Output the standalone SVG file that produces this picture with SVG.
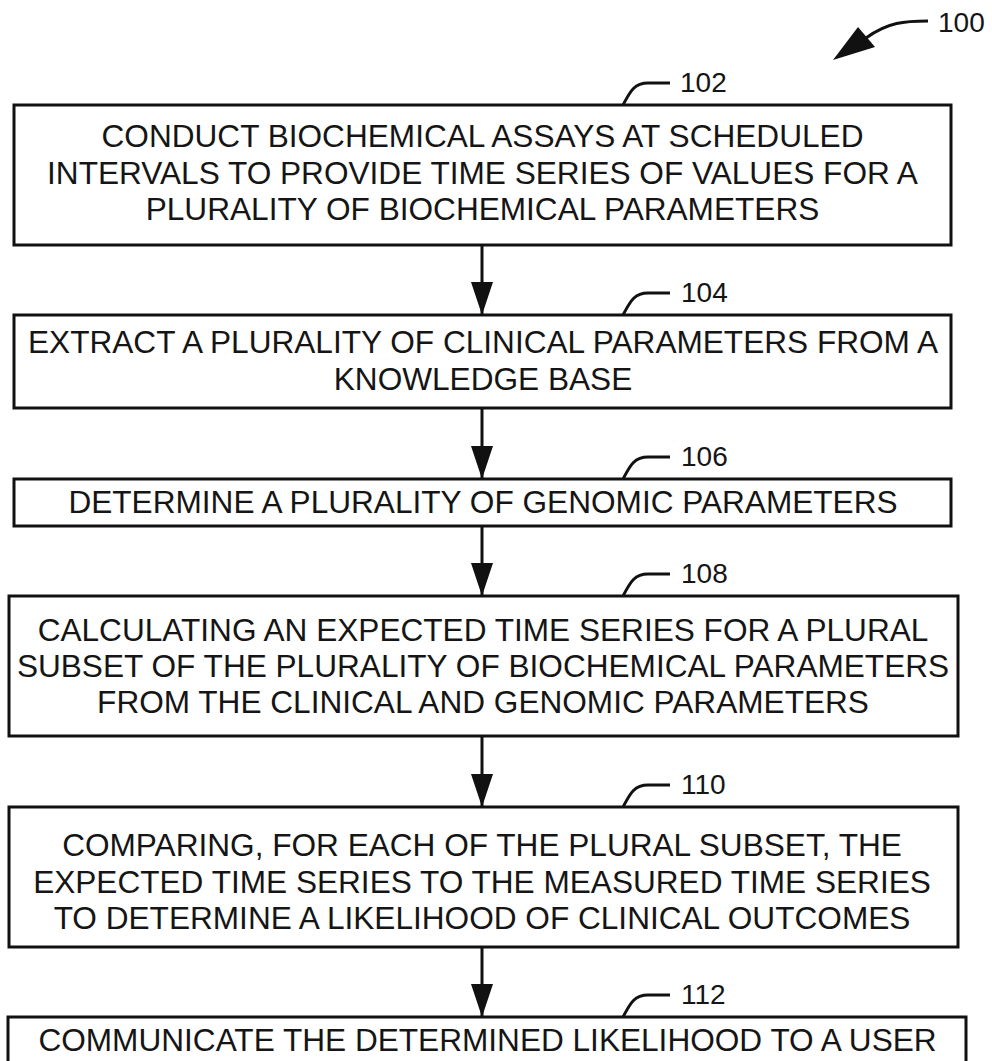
<svg xmlns="http://www.w3.org/2000/svg" width="992" height="1061" viewBox="0 0 992 1061">
  <defs>
    <style>
      .box { fill: #ffffff; stroke: #111111; stroke-width: 3; }
      .txt { font-family: "Liberation Sans", Arial, sans-serif; font-size: 31.6px; fill: #151515; text-anchor: middle; }
      .lbl { font-family: "Liberation Sans", Arial, sans-serif; font-size: 28px; fill: #151515; }
      .lead { fill: none; stroke: #111111; stroke-width: 3; }
      .conn { fill: none; stroke: #111111; stroke-width: 3; }
    </style>
    <marker id="ah" markerUnits="userSpaceOnUse" markerWidth="33" markerHeight="22" refX="33" refY="11" orient="auto">
      <path d="M0,0 L33,11 L0,22 z" fill="#111111"/>
    </marker>
  </defs>
  <rect width="992" height="1061" fill="#ffffff"/>

  <g id="ref100">
    <path class="lead" d="M928,21 C905,21 888,22 866,38"/>
    <polygon points="833,60 858,27 875,47" fill="#111111"/>
    <text class="lbl" x="938" y="32">100</text>
  </g>

  <g id="node102">
    <rect class="box" x="14" y="105" width="937" height="140"/>
    <text class="txt" x="482.5" y="147">CONDUCT BIOCHEMICAL ASSAYS AT SCHEDULED</text>
    <text class="txt" x="482.5" y="184">INTERVALS TO PROVIDE TIME SERIES OF VALUES FOR A</text>
    <text class="txt" x="482.5" y="220">PLURALITY OF BIOCHEMICAL PARAMETERS</text>
    <path class="lead" d="M623,105 C630,92 634,83 648,83 L670,83"/>
    <text class="lbl" x="680" y="92">102</text>
  </g>

  <g id="node104">
    <rect class="box" x="14" y="315" width="937" height="93"/>
    <text class="txt" x="483" y="353">EXTRACT A PLURALITY OF CLINICAL PARAMETERS FROM A</text>
    <text class="txt" x="483" y="390">KNOWLEDGE BASE</text>
    <path class="lead" d="M623,315 C630,302 634,293 648,293 L670,293"/>
    <text class="lbl" x="681" y="302">104</text>
  </g>

  <g id="node106">
    <rect class="box" x="14" y="479" width="937" height="47"/>
    <text class="txt" x="483" y="513">DETERMINE A PLURALITY OF GENOMIC PARAMETERS</text>
    <path class="lead" d="M623,479 C630,466 634,457 648,457 L670,457"/>
    <text class="lbl" x="681" y="466">106</text>
  </g>

  <g id="node108">
    <rect class="box" x="9" y="596" width="949" height="140"/>
    <text class="txt" x="483" y="641">CALCULATING AN EXPECTED TIME SERIES FOR A PLURAL</text>
    <text class="txt" x="483" y="677">SUBSET OF THE PLURALITY OF BIOCHEMICAL PARAMETERS</text>
    <text class="txt" x="483" y="713">FROM THE CLINICAL AND GENOMIC PARAMETERS</text>
    <path class="lead" d="M623,596 C630,583 634,574 648,574 L670,574"/>
    <text class="lbl" x="681" y="583">108</text>
  </g>

  <g id="node110">
    <rect class="box" x="9" y="807" width="949" height="140"/>
    <text class="txt" x="482" y="856">COMPARING, FOR EACH OF THE PLURAL SUBSET, THE</text>
    <text class="txt" x="482" y="893">EXPECTED TIME SERIES TO THE MEASURED TIME SERIES</text>
    <text class="txt" x="482" y="929">TO DETERMINE A LIKELIHOOD OF CLINICAL OUTCOMES</text>
    <path class="lead" d="M623,807 C630,794 634,785 648,785 L670,785"/>
    <text class="lbl" x="681" y="794">110</text>
  </g>

  <g id="node112">
    <rect class="box" x="8" y="1017" width="958" height="70"/>
    <text class="txt" x="487.5" y="1051">COMMUNICATE THE DETERMINED LIKELIHOOD TO A USER</text>
    <path class="lead" d="M623,1017 C630,1004 634,995 648,995 L670,995"/>
    <text class="lbl" x="681" y="1004">112</text>
  </g>

  <g id="connectors">
    <line class="conn" x1="482" y1="245" x2="482" y2="315" marker-end="url(#ah)"/>
    <line class="conn" x1="482" y1="408" x2="482" y2="479" marker-end="url(#ah)"/>
    <line class="conn" x1="482" y1="526" x2="482" y2="596" marker-end="url(#ah)"/>
    <line class="conn" x1="482" y1="736" x2="482" y2="807" marker-end="url(#ah)"/>
    <line class="conn" x1="482" y1="947" x2="482" y2="1017" marker-end="url(#ah)"/>
  </g>
</svg>
